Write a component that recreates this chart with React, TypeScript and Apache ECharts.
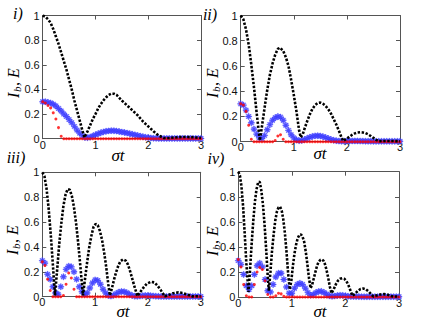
import React, { useEffect, useRef } from 'react';
import * as echarts from 'echarts';

// sample times for the blue (stars) and red (dots) series
const sampleT = [0, 0.05, 0.1, 0.15, 0.2, 0.25, 0.3, 0.35, 0.4, 0.45, 0.5, 0.55, 0.6, 0.65, 0.7, 0.75, 0.8, 0.85, 0.9, 0.95,
  1.0, 1.05, 1.1, 1.15, 1.2, 1.25, 1.3, 1.35, 1.4, 1.45, 1.5, 1.55, 1.6, 1.65, 1.7, 1.75, 1.8, 1.85, 1.9, 1.95,
  2.0, 2.05, 2.1, 2.15, 2.2, 2.25, 2.3, 2.35, 2.4, 2.45, 2.5, 2.55, 2.6, 2.65, 2.7, 2.75, 2.8, 2.85, 2.9, 2.95, 3.0];

const xTicks = [0, 1, 2, 3];
const yTicks = [0, 0.2, 0.4, 0.6, 0.8, 1];
const yTickLabels = ['0', '0.2', '0.4', '0.6', '0.8', '1'];
const panelLabels = ['i)', 'ii)', 'iii)', 'iv)'];

// black dotted curve (I_b), [sigma t, value]
const blackI = [[0, 1], [0.05, 0.99], [0.1, 0.97], [0.15, 0.94], [0.2, 0.89], [0.25, 0.83], [0.3, 0.77], [0.35, 0.7], [0.4, 0.63], [0.45, 0.56], [0.5, 0.48], [0.55, 0.4], [0.6, 0.31], [0.65, 0.23], [0.7, 0.15], [0.75, 0.07], [0.79, 0.01], [0.85, 0.06], [0.9, 0.11], [0.95, 0.16], [1.0, 0.2], [1.05, 0.245], [1.1, 0.28], [1.15, 0.31], [1.2, 0.335], [1.25, 0.355], [1.3, 0.365], [1.35, 0.365], [1.4, 0.355], [1.5, 0.31], [1.6, 0.27], [1.7, 0.23], [1.8, 0.19], [1.9, 0.14], [2.0, 0.1], [2.1, 0.06], [2.2, 0.025], [2.3, 0.006], [2.4, 0.006], [2.5, 0.01], [2.6, 0.013], [2.7, 0.014], [2.8, 0.013], [2.9, 0.01], [3, 0.007]];
const blackII = [[0, 1], [0.05, 0.97], [0.1, 0.89], [0.15, 0.77], [0.2, 0.61], [0.25, 0.43], [0.3, 0.23], [0.36, 0.01], [0.4, 0.12], [0.45, 0.27], [0.5, 0.41], [0.55, 0.53], [0.6, 0.62], [0.65, 0.69], [0.7, 0.735], [0.74, 0.745], [0.8, 0.72], [0.85, 0.67], [0.9, 0.6], [0.95, 0.49], [1.0, 0.37], [1.05, 0.24], [1.1, 0.09], [1.13, 0.035], [1.17, 0.06], [1.2, 0.1], [1.25, 0.16], [1.3, 0.215], [1.35, 0.26], [1.4, 0.29], [1.45, 0.307], [1.5, 0.31], [1.55, 0.3], [1.6, 0.283], [1.65, 0.257], [1.7, 0.223], [1.75, 0.18], [1.8, 0.136], [1.85, 0.086], [1.9, 0.033], [1.93, 0.006], [2.0, 0.025], [2.05, 0.04], [2.1, 0.055], [2.15, 0.066], [2.2, 0.073], [2.25, 0.075], [2.3, 0.073], [2.35, 0.068], [2.4, 0.058], [2.45, 0.045], [2.5, 0.03], [2.55, 0.015], [2.6, 0.004], [2.7, 0.006], [2.8, 0.006], [2.9, 0.005], [3, 0.004]];
const blackIII = [[0, 1], [0.04, 0.97], [0.08, 0.87], [0.12, 0.71], [0.16, 0.5], [0.2, 0.26], [0.24, 0.01], [0.28, 0.21], [0.32, 0.42], [0.36, 0.59], [0.4, 0.73], [0.44, 0.82], [0.48, 0.865], [0.52, 0.86], [0.56, 0.81], [0.6, 0.72], [0.64, 0.59], [0.68, 0.43], [0.72, 0.25], [0.77, 0.01], [0.81, 0.146], [0.85, 0.28], [0.89, 0.4], [0.93, 0.49], [0.97, 0.56], [1.01, 0.585], [1.05, 0.575], [1.09, 0.53], [1.13, 0.46], [1.17, 0.36], [1.21, 0.24], [1.25, 0.1], [1.28, 0.01], [1.32, 0.07], [1.36, 0.14], [1.4, 0.2], [1.44, 0.25], [1.48, 0.285], [1.53, 0.3], [1.58, 0.29], [1.62, 0.26], [1.66, 0.21], [1.7, 0.15], [1.74, 0.09], [1.8, 0.005], [1.86, 0.04], [1.92, 0.075], [1.98, 0.105], [2.06, 0.12], [2.12, 0.115], [2.18, 0.09], [2.24, 0.055], [2.32, 0.003], [2.4, 0.015], [2.48, 0.028], [2.58, 0.035], [2.66, 0.03], [2.74, 0.018], [2.84, 0.003], [2.92, 0.004], [3, 0.003]];
const blackIV = [[0, 1], [0.03, 0.97], [0.06, 0.88], [0.09, 0.72], [0.12, 0.5], [0.15, 0.27], [0.19, 0.04], [0.22, 0.22], [0.25, 0.43], [0.28, 0.61], [0.31, 0.76], [0.34, 0.86], [0.37, 0.913], [0.4, 0.92], [0.43, 0.85], [0.46, 0.74], [0.49, 0.58], [0.52, 0.38], [0.55, 0.16], [0.57, 0.05], [0.6, 0.2], [0.63, 0.37], [0.66, 0.5], [0.69, 0.61], [0.72, 0.68], [0.75, 0.715], [0.78, 0.72], [0.81, 0.69], [0.84, 0.62], [0.87, 0.51], [0.9, 0.36], [0.93, 0.19], [0.96, 0.06], [0.99, 0.13], [1.02, 0.25], [1.05, 0.35], [1.08, 0.42], [1.11, 0.47], [1.14, 0.495], [1.17, 0.5], [1.2, 0.48], [1.23, 0.44], [1.26, 0.36], [1.29, 0.26], [1.32, 0.15], [1.35, 0.07], [1.38, 0.1], [1.41, 0.15], [1.44, 0.2], [1.47, 0.25], [1.5, 0.28], [1.53, 0.295], [1.56, 0.3], [1.59, 0.29], [1.62, 0.26], [1.65, 0.21], [1.68, 0.15], [1.71, 0.08], [1.74, 0.03], [1.78, 0.06], [1.82, 0.1], [1.86, 0.13], [1.9, 0.145], [1.94, 0.15], [1.98, 0.145], [2.02, 0.125], [2.06, 0.09], [2.1, 0.045], [2.13, 0.01], [2.18, 0.025], [2.23, 0.048], [2.28, 0.063], [2.33, 0.068], [2.38, 0.062], [2.43, 0.045], [2.48, 0.022], [2.52, 0.005], [2.58, 0.012], [2.65, 0.02], [2.72, 0.023], [2.79, 0.018], [2.85, 0.008], [2.9, 0.003], [2.95, 0.004], [3, 0.003]];

// blue stars (E), one value per sampleT
const blueI = [0.3, 0.3, 0.295, 0.29, 0.28, 0.265, 0.245, 0.225, 0.2, 0.18,
  0.155, 0.13, 0.1, 0.07, 0.045, 0.025, 0.01, 0.008, 0.013, 0.022,
  0.032, 0.04, 0.048, 0.055, 0.06, 0.063, 0.065, 0.064, 0.062, 0.058,
  0.054, 0.05, 0.046, 0.041, 0.036, 0.031, 0.026, 0.021, 0.016, 0.012,
  0.009, 0.006, 0.004, 0.003, 0.002, 0.002, 0.002, 0.002, 0.002, 0.002,
  0.002, 0.002, 0.002, 0.002, 0.002, 0.002, 0.002, 0.002, 0.002, 0.002, 0.002];
const blueII = [0.3, 0.29, 0.25, 0.2, 0.15, 0.1, 0.06, 0.03, 0.025, 0.05,
  0.095, 0.135, 0.17, 0.19, 0.2, 0.195, 0.17, 0.13, 0.09, 0.055,
  0.03, 0.015, 0.008, 0.01, 0.017, 0.026, 0.035, 0.042, 0.046, 0.047,
  0.045, 0.04, 0.033, 0.025, 0.018, 0.012, 0.008, 0.005, 0.004, 0.004,
  0.005, 0.006, 0.006, 0.006, 0.006, 0.005, 0.005, 0.004, 0.004, 0.004,
  0.003, 0.003, 0.003, 0.003, 0.003, 0.003, 0.003, 0.003, 0.003, 0.003, 0.003];
const blueIII = [0.29, 0.27, 0.18, 0.14, 0.08, 0.03, 0.02, 0.08, 0.16, 0.22,
  0.245, 0.24, 0.2, 0.14, 0.08, 0.04, 0.02, 0.03, 0.07, 0.11,
  0.135, 0.13, 0.1, 0.06, 0.03, 0.01, 0.005, 0.012, 0.025, 0.037,
  0.042, 0.04, 0.032, 0.02, 0.01, 0.004, 0.003, 0.005, 0.008, 0.01,
  0.01, 0.008, 0.006, 0.004, 0.003, 0.002, 0.002, 0.002, 0.002, 0.002,
  0.002, 0.002, 0.002, 0.002, 0.002, 0.002, 0.002, 0.002, 0.002, 0.002, 0.002];
const blueIV = [0.29, 0.26, 0.18, 0.09, 0.06, 0.09, 0.18, 0.25, 0.27, 0.24,
  0.14, 0.05, 0.04, 0.1, 0.16, 0.19, 0.19, 0.14, 0.08, 0.03,
  0.03, 0.07, 0.1, 0.11, 0.1, 0.07, 0.035, 0.015, 0.02, 0.035,
  0.044, 0.045, 0.036, 0.022, 0.01, 0.006, 0.008, 0.012, 0.014, 0.013,
  0.01, 0.006, 0.004, 0.004, 0.003, 0.003, 0.002, 0.002, 0.002, 0.002,
  0.002, 0.002, 0.002, 0.002, 0.002, 0.002, 0.002, 0.002, 0.002, 0.002, 0.002];

// red dots, one value per sampleT
const redI = [0.3, 0.29, 0.27, 0.25, 0.21, 0.16, 0.09, 0.02, 0, 0,
  0, 0, 0, 0, 0, 0, 0, 0, 0, 0, 0, 0, 0, 0, 0, 0, 0, 0, 0, 0,
  0, 0, 0, 0, 0, 0, 0, 0, 0, 0, 0, 0, 0, 0, 0, 0, 0, 0, 0, 0,
  0, 0, 0, 0, 0, 0, 0, 0, 0, 0, 0];
const redII = [0.3, 0.29, 0.24, 0.13, 0.02, 0, 0, 0, 0, 0,
  0, 0, 0, 0.01, 0.045, 0.055, 0.02, 0, 0, 0, 0, 0, 0, 0, 0, 0, 0, 0, 0, 0,
  0, 0, 0, 0, 0, 0, 0, 0, 0, 0, 0, 0, 0, 0, 0, 0, 0, 0, 0, 0,
  0, 0, 0, 0, 0, 0, 0, 0, 0, 0, 0];
const redIII = [0.28, 0.25, 0.14, 0.05, 0, 0, 0, 0, 0.01, 0.1,
  0.19, 0.15, 0.06, 0, 0, 0, 0, 0, 0, 0, 0, 0, 0, 0, 0, 0, 0, 0, 0, 0,
  0, 0, 0, 0, 0, 0, 0, 0, 0, 0, 0, 0, 0, 0, 0, 0, 0, 0, 0, 0,
  0, 0, 0, 0, 0, 0, 0, 0, 0, 0, 0];
const redIV = [0.3, 0.24, 0.1, 0.01, 0, 0, 0.1, 0.2, 0.235, 0.22,
  0.13, 0.02, 0, 0, 0.01, 0.03, 0.025, 0.005, 0, 0, 0, 0, 0, 0, 0, 0, 0, 0, 0, 0,
  0, 0, 0, 0, 0, 0, 0, 0, 0, 0, 0, 0, 0, 0, 0, 0, 0, 0, 0, 0,
  0, 0, 0, 0, 0, 0, 0, 0, 0, 0, 0];

const blacks = [blackI, blackII, blackIII, blackIV];
const blues = [blueI, blueII, blueIII, blueIV];
const reds = [redI, redII, redIII, redIV];

// layout (pixels)
const grids = [
  { left: 42.7, top: 15.5, width: 158.3, height: 123.2 },
  { left: 240.7, top: 15.5, width: 159.3, height: 126.2 },
  { left: 42.3, top: 172.3, width: 158.4, height: 124.4 },
  { left: 238.3, top: 171.7, width: 160.7, height: 125.3 },
];
const xLabelMargins = [1, 0, 0, 0];
const panelLabelPos = [[18, 13], [210, 14], [16, 157], [216, 158]];
const yTitlePos = [[13, 77], [212, 77], [12, 234], [212, 235]];
const xTitlePos = [[118, 155], [320, 153], [123, 311], [320, 311]];

const starPath =
  'path://M-1.2,-8 L1.2,-8 L1.2,-1.2 L8,-1.2 L8,1.2 L1.2,1.2 L1.2,8 L-1.2,8 L-1.2,1.2 L-8,1.2 L-8,-1.2 L-1.2,-1.2 Z ' +
  'M-6.5,-4.8 L-4.8,-6.5 L6.5,4.8 L4.8,6.5 Z M4.8,-6.5 L6.5,-4.8 L-4.8,6.5 L-6.5,4.8 Z';

const axisColor = '#555';
const tickFont = { fontSize: 11, fontFamily: 'sans-serif', color: '#111' };
const serif = 'Liberation Serif';

export default function App() {
  const ref = useRef<HTMLDivElement>(null);
  useEffect(() => {
    if (!ref.current) return;
    const chart = echarts.init(ref.current, null, { renderer: 'svg' });
    const xAxis: any[] = [];
    const yAxis: any[] = [];
    const series: any[] = [];
    const graphic: any[] = [];
    grids.forEach((g, k) => {
      const common = {
        type: 'value',
        gridIndex: k,
        splitLine: { show: false },
        axisLine: { show: true, onZero: false, lineStyle: { color: axisColor, width: 1 } },
        axisTick: { show: true, inside: true, length: 4, lineStyle: { color: axisColor } },
      };
      xAxis.push({ ...common, min: xTicks[0], max: xTicks[xTicks.length - 1], interval: 1, position: 'bottom',
        axisLabel: { ...tickFont, margin: xLabelMargins[k] } });
      xAxis.push({ ...common, min: xTicks[0], max: xTicks[xTicks.length - 1], interval: 1, position: 'top',
        axisLabel: { show: false } });
      yAxis.push({ ...common, min: yTicks[0], max: yTicks[yTicks.length - 1], interval: 0.2, position: 'left',
        axisLabel: { show: false } });
      yAxis.push({ ...common, min: yTicks[0], max: yTicks[yTicks.length - 1], interval: 0.2, position: 'right',
        axisLabel: { show: false } });
      series.push({
        type: 'scatter', xAxisIndex: 2 * k, yAxisIndex: 2 * k,
        symbol: starPath, symbolSize: 6,
        itemStyle: { color: '#2a2aff', borderColor: '#4a4aff', borderWidth: 0.6 },
        data: sampleT.map((t, i) => [t, blues[k][i]]),
      });
      series.push({
        type: 'scatter', xAxisIndex: 2 * k, yAxisIndex: 2 * k,
        symbol: 'circle', symbolSize: 3,
        itemStyle: { color: '#ff0000' },
        data: sampleT.map((t, i) => [t, reds[k][i]]),
      });
      series.push({
        type: 'line', xAxisIndex: 2 * k, yAxisIndex: 2 * k,
        showSymbol: false, symbol: 'none',
        lineStyle: { color: '#000', width: 2.6, type: [2.4, 1.6], cap: 'butt' },
        data: blacks[k],
      });
      graphic.push({
        type: 'text', x: panelLabelPos[k][0], y: panelLabelPos[k][1],
        style: { text: panelLabels[k], fontFamily: serif, fontStyle: 'italic', fontSize: 16, fill: '#000', align: 'center', verticalAlign: 'middle' },
      });
      // y title "I_b, E", rotated; built from plain texts
      graphic.push({
        type: 'group', x: yTitlePos[k][0], y: yTitlePos[k][1], rotation: Math.PI / 2,
        children: [
          { type: 'text', x: -21, y: 0, style: { text: 'I', fontFamily: serif, fontStyle: 'italic', fontSize: 16, fill: '#000', align: 'left', verticalAlign: 'middle' } },
          { type: 'text', x: -15, y: 4, style: { text: 'b', fontFamily: serif, fontStyle: 'italic', fontSize: 11, fill: '#000', align: 'left', verticalAlign: 'middle' } },
          { type: 'text', x: -9, y: 0, style: { text: ', E', fontFamily: serif, fontStyle: 'italic', fontSize: 16, fill: '#000', align: 'left', verticalAlign: 'middle' } },
        ],
      });
      graphic.push({
        type: 'text', x: xTitlePos[k][0], y: xTitlePos[k][1],
        style: { text: 'σt', fontFamily: serif, fontStyle: 'italic', fontSize: 17, fill: '#000', align: 'center', verticalAlign: 'middle' },
      });
    });
    chart.setOption({
      animation: false,
      grid: grids,
      xAxis,
      yAxis,
      series,
    });
    // y tick labels, placed through each panel's own y scale, on top of everything
    grids.forEach((g, k) => {
      yTicks.forEach((v, i) => {
        const py = chart.convertToPixel({ yAxisIndex: 2 * k } as any, v) as unknown as number;
        graphic.push({
          type: 'text', x: g.left - 3, y: py, z: 100,
          style: { text: yTickLabels[i], fontFamily: tickFont.fontFamily, fontSize: tickFont.fontSize, fill: tickFont.color,
            align: 'right', verticalAlign: 'middle' },
        });
      });
    });
    chart.setOption({ graphic });
    return () => chart.dispose();
  }, []);
  return (
    <div
      ref={ref}
      style={{ position: 'fixed', left: 0, top: 0, width: 440, height: 323, background: '#fff' }}
    />
  );
}
